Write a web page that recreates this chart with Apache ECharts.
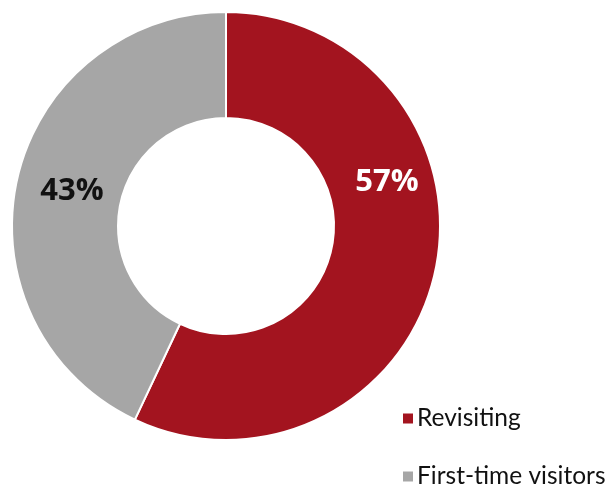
<!DOCTYPE html>
<html>
<head>
<meta charset="utf-8">
<script src="https://cdn.jsdelivr.net/npm/echarts@6/dist/echarts.min.js"></script>
<style>
  html, body { margin: 0; padding: 0; background: #ffffff; }
  #chart { width: 611px; height: 485px; }
</style>
</head>
<body>
<div id="chart"></div>
<script>
// Visitor split, in percent
const categories = ['Revisiting', 'First-time visitors'];
const shares = [57, 43];
const colors = ['#A3141F', '#A6A6A6'];
const labelColors = ['#ffffff', '#111111'];

const TEXT_FONT = 'Lato, "Open Sans", sans-serif';
const LABEL_FONT = '"Open Sans", Lato, sans-serif';

const chart = echarts.init(document.getElementById('chart'));

const pieData = categories.map((name, i) => ({
  name: name,
  value: shares[i],
  itemStyle: { color: colors[i] },
  label: {
    color: labelColors[i],
    offset: i === 0 ? [1, -80] : [6, 1]
  }
}));

// one legend block per entry, stacked in the lower right
const legendTops = [401, 459];
const legends = categories.map((name, i) => ({
  orient: 'vertical',
  left: 396,
  top: legendTops[i],
  itemWidth: 12,
  itemHeight: 12,
  icon: 'rect',
  data: [name],
  selectedMode: false,
  textStyle: { fontFamily: TEXT_FONT, fontSize: 24.5, color: '#111111', padding: [0, 0, 0, -2] }
}));

chart.setOption({
  animation: false,
  legend: legends,
  series: [{
    type: 'pie',
    center: [226, 226],
    radius: [108, 214],
    startAngle: 90,
    clockwise: true,
    avoidLabelOverlap: false,
    itemStyle: { borderColor: '#ffffff', borderWidth: 2 },
    label: {
      show: true,
      position: 'inside',
      formatter: '{c}%',
      fontFamily: LABEL_FONT,
      fontWeight: 'bold',
      fontSize: 31
    },
    labelLine: { show: false },
    emphasis: { disabled: true },
    data: pieData
  }]
});
</script>
</body>
</html>
